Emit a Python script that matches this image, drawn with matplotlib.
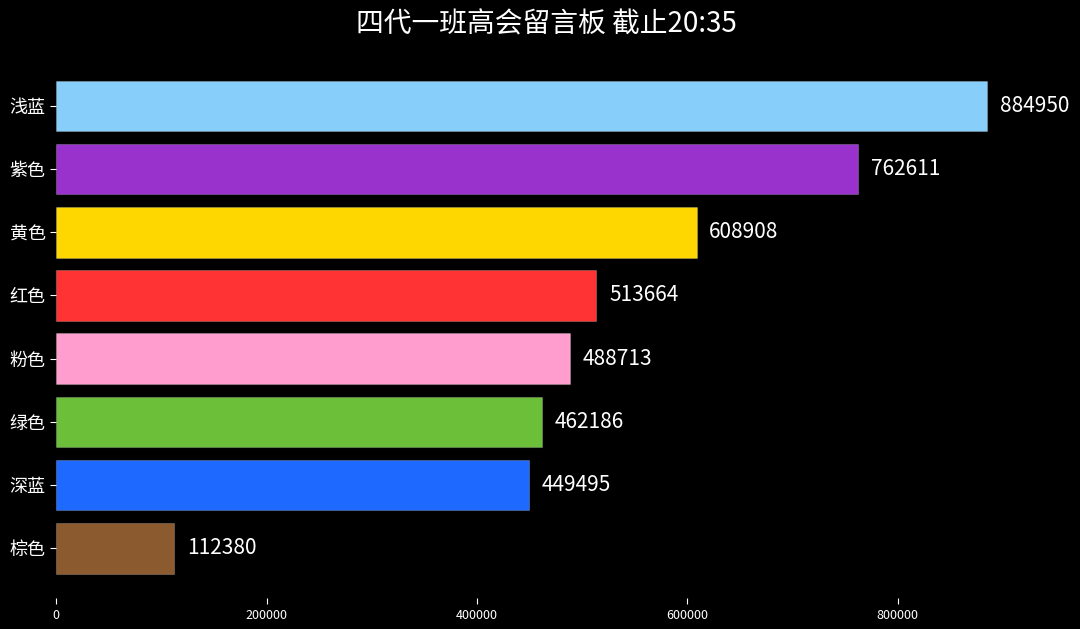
import matplotlib.pyplot as plt

plt.rcParams['font.family'] = ['Noto Sans CJK SC', 'DejaVu Sans']

names = ['浅蓝', '紫色', '黄色', '红色', '粉色', '绿色', '深蓝', '棕色']
values = [884950, 762611, 608908, 513664, 488713, 462186, 449495, 112380]
colors = ['#87CEFA', '#9932CC', '#FFD700', '#FF3333', '#FF9ECE', '#6BBF39', '#1E69FF', '#8B5A2F']
xticks = [0, 200000, 400000, 600000, 800000]

fig = plt.figure(figsize=(10.8, 6.29), dpi=100, facecolor='black')
ax = fig.add_axes([0.052, 0.049, 0.93, 0.84])
ax.set_facecolor('black')

pos = range(len(names))
ax.barh(pos, values, height=0.8, color=colors, edgecolor='#ffffff33', linewidth=0.8)
for i, v in enumerate(values):
    ax.text(v + 12000, i, str(v), color='white', fontsize=15, va='center', ha='left')

ax.set_yticks(list(pos))
ax.set_yticklabels(names, color='white', fontsize=13)
ax.set_xticks(xticks)
ax.set_xticklabels([str(t) for t in xticks], color='white', fontsize=9)
ax.tick_params(colors='white', length=4)
ax.set_ylim(7.79, -0.57)
ax.set_xlim(0, 955000)
for s in ax.spines.values():
    s.set_visible(False)

fig.suptitle('四代一班高会留言板 截止20:35', color='white', fontsize=20, x=0.506, y=0.985)

fig.savefig('out.png', dpi=100, facecolor='black')
plt.close()
